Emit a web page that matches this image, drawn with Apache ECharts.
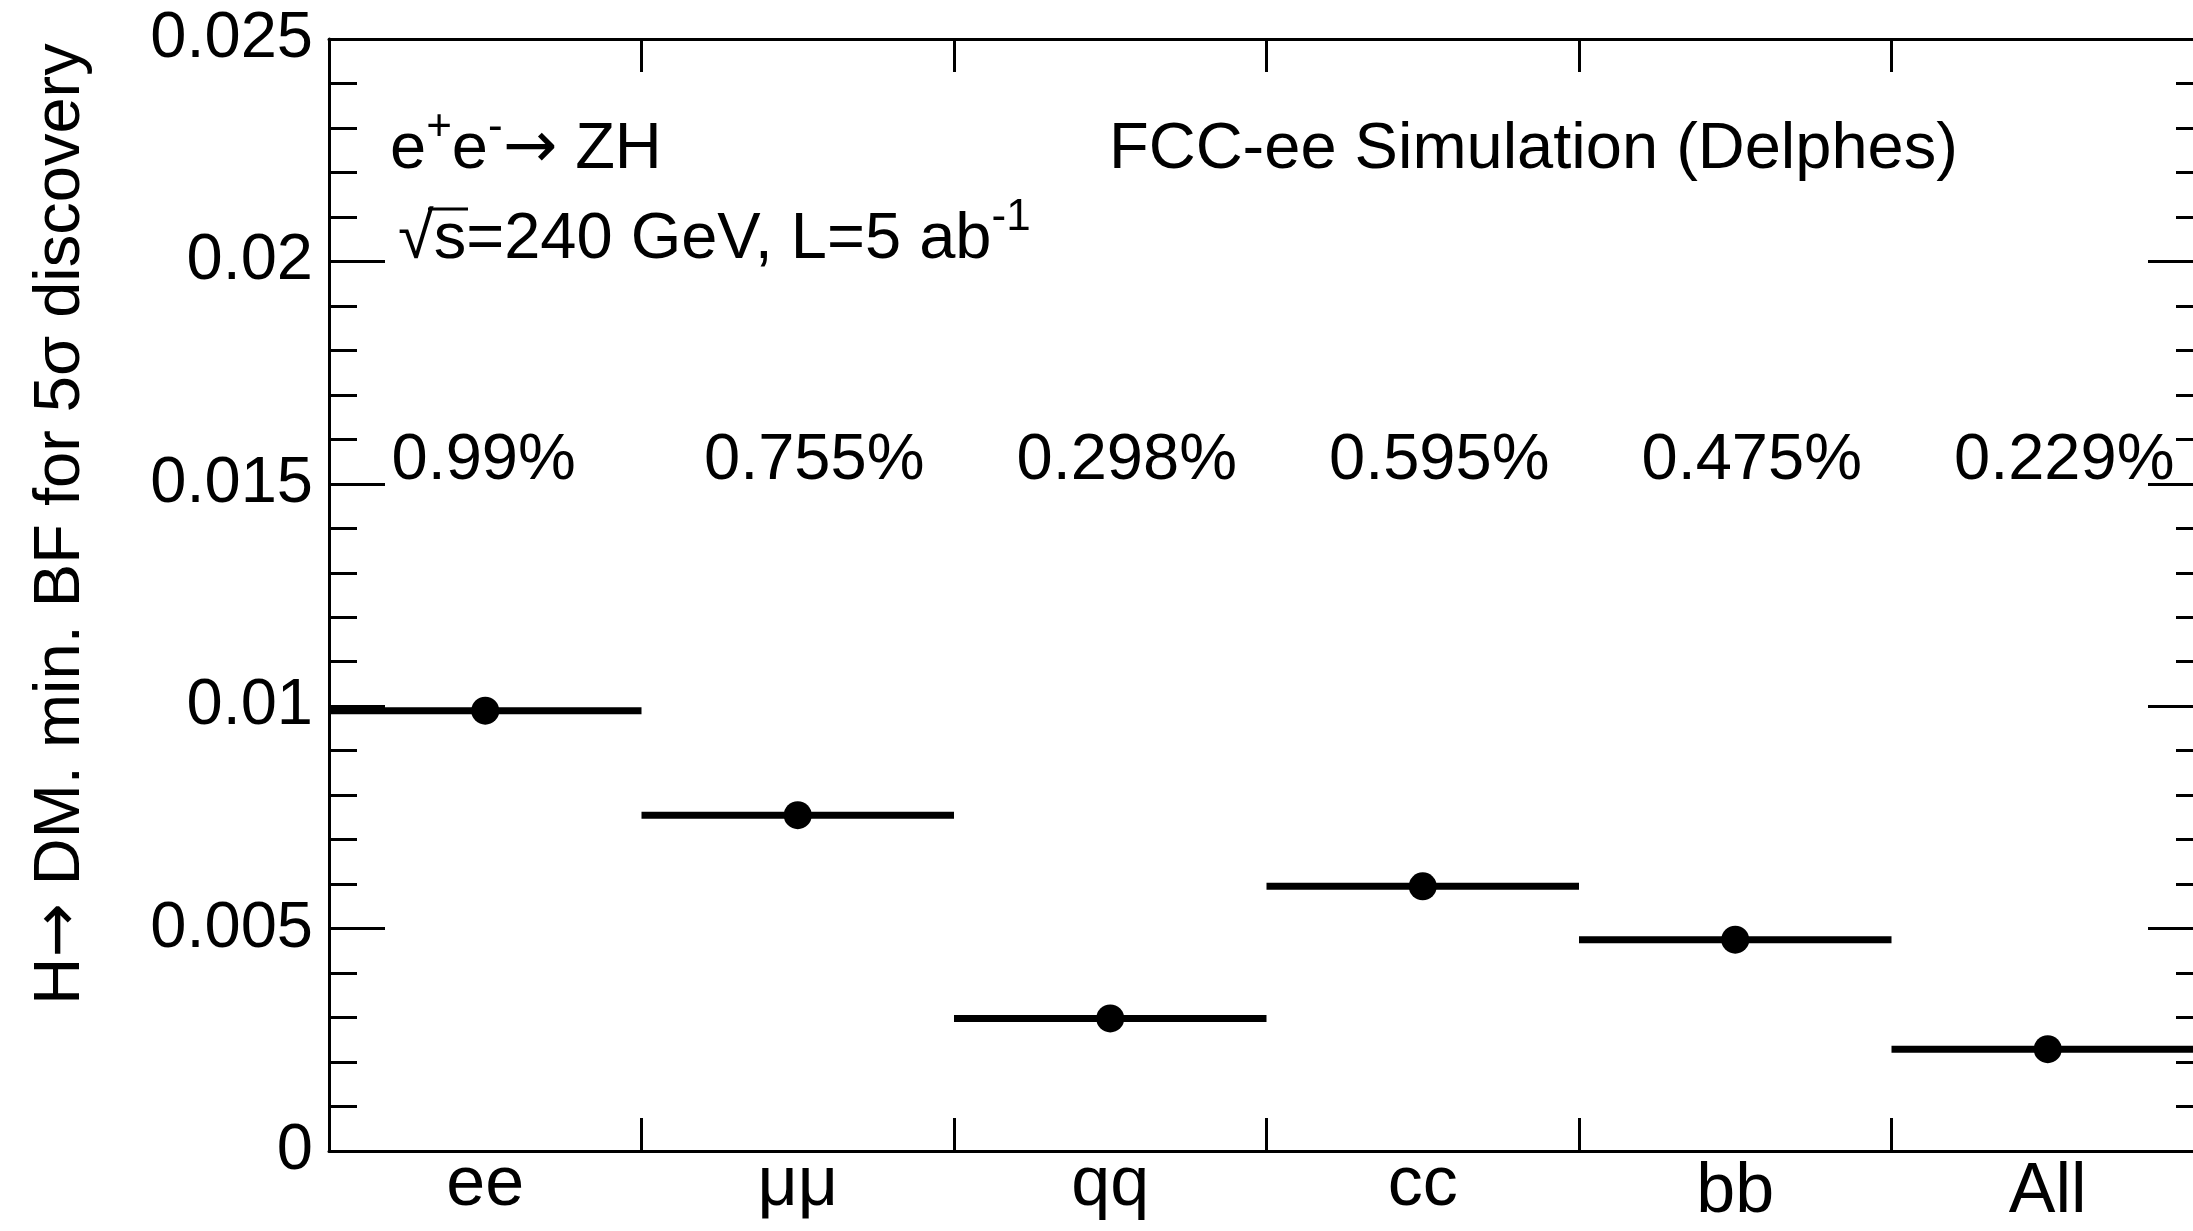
<!DOCTYPE html>
<html><head><meta charset="utf-8">
<script src="https://cdn.jsdelivr.net/npm/echarts@6/dist/echarts.min.js"></script>
<style>html,body{margin:0;padding:0;background:#fff;overflow:hidden}#c{width:2212px;height:1231px}</style>
</head><body><div id="c"></div>
<script>
// ---- data ----
const categories = ['ee', 'μμ', 'qq', 'cc', 'bb', 'All'];
const minBF = [0.0099, 0.00755, 0.00298, 0.00595, 0.00475, 0.00229];
const pctLabels = ['0.99%', '0.755%', '0.298%', '0.595%', '0.475%', '0.229%'];
const yTickLabels = ['0', '0.005', '0.01', '0.015', '0.02', '0.025'];
const yTickValues = [0, 0.005, 0.01, 0.015, 0.02, 0.025];

// ---- style ----
const FONT = '"Liberation Sans", Arial, Helvetica, sans-serif';
const ARROW_FONT = '"DejaVu Sans", sans-serif';
const FS = 65;
const LABEL_Y = 0.015;      // data-space baseline of the percentage labels
const BLACK = '#000';

const chart = echarts.init(document.getElementById('c'), null, {renderer: 'canvas'});

const yCommon = {
  type: 'value', min: 0, max: 0.025, interval: 0.005,
  axisLine: {show: true, lineStyle: {color: BLACK, width: 3}},
  axisTick: {show: true, inside: true, length: 56, lineStyle: {color: BLACK, width: 3}},
  minorTick: {show: true, splitNumber: 5, length: 28, lineStyle: {color: BLACK, width: 3}},
  splitLine: {show: false}, minorSplitLine: {show: false}
};
const xCommon = {
  type: 'category', data: categories, boundaryGap: true,
  axisLine: {show: true, onZero: false, lineStyle: {color: BLACK, width: 3}},
  axisTick: {show: true, inside: true, length: 33, alignWithLabel: false, lineStyle: {color: BLACK, width: 3}},
  splitLine: {show: false}
};
const richMain = {fontFamily: FONT, fontSize: FS, lineHeight: 88, color: BLACK};
const richArrow = {fontFamily: ARROW_FONT, fontSize: FS, lineHeight: 88, color: BLACK};
const richSup = {fontFamily: FONT, fontSize: 44, lineHeight: 44, verticalAlign: 'top', color: BLACK};

const option = {
  animation: false,
  backgroundColor: '#fff',
  grid: {left: 329, top: 39, width: 1875, height: 1112, containLabel: false},
  xAxis: [
    Object.assign({}, xCommon, {
      position: 'bottom',
      axisLabel: {
        show: true, interval: 0, margin: 0, color: BLACK,
        formatter: v => (/[A-Zbdfhklt]/.test(v) ? '{a|' + v + '}' : '{n|' + v + '}'),
        rich: {
          n: {fontFamily: FONT, fontSize: 70, lineHeight: 70, color: BLACK},
          a: {fontFamily: FONT, fontSize: 70, lineHeight: 70, color: BLACK, padding: [13, 0, 0, 0]}
        }
      }
    }),
    Object.assign({}, xCommon, {position: 'top', axisLabel: {show: false}})
  ],
  yAxis: [
    Object.assign({}, yCommon, {
      position: 'left',
      axisLabel: {
        show: true, margin: 16, color: BLACK, fontFamily: FONT, fontSize: FS,
        formatter: v => {
          const k = yTickValues.findIndex(t => Math.abs(t - v) < 1e-9);
          return k >= 0 ? yTickLabels[k] : '';
        }
      }
    }),
    Object.assign({}, yCommon, {position: 'right', axisLabel: {show: false}})
  ],
  series: [
    {
      type: 'custom', name: 'bins', xAxisIndex: 0, yAxisIndex: 0, clip: false,
      data: minBF.map((v, i) => [i, v]),
      renderItem: function (params, api) {
        const c = api.coord([api.value(0), api.value(1)]);
        const w = api.size([1, 0])[0];
        return {
          type: 'line',
          shape: {x1: c[0] - w / 2, y1: c[1], x2: c[0] + w / 2, y2: c[1]},
          style: {stroke: BLACK, lineWidth: 7}
        };
      }
    },
    {
      type: 'scatter', name: 'points', xAxisIndex: 0, yAxisIndex: 0,
      symbol: 'circle', symbolSize: 28,
      itemStyle: {color: BLACK, opacity: 1},
      emphasis: {disabled: true},
      data: minBF.map((v, i) => [i, v])
    },
    {
      type: 'custom', name: 'labels', xAxisIndex: 0, yAxisIndex: 0, clip: false,
      data: pctLabels.map((t, i) => [i, LABEL_Y]),
      renderItem: function (params, api) {
        const c = api.coord([api.value(0), api.value(1)]);
        const w = api.size([1, 0])[0];
        return {
          type: 'text',
          x: c[0] - w / 2 + 0.2 * w,
          y: c[1] - 0.35 * FS,
          style: {
            text: pctLabels[params.dataIndex],
            fill: BLACK, font: FS + 'px ' + FONT,
            align: 'left', verticalAlign: 'middle'
          }
        };
      }
    }
  ],
  graphic: [
    {
      type: 'text', x: 61, y: 524, rotation: Math.PI / 2,
      style: {
        text: '{m|H}{r|→}{m| DM. min. BF for 5σ discovery}',
        fill: BLACK, align: 'center', verticalAlign: 'middle',
        rich: {m: richMain, r: richArrow}
      }
    },
    {
      type: 'text', x: 390, y: 173 - 0.35 * FS,
      style: {
        text: '{m|e}{s|+}{m|e}{s|-}{r|→}{m| ZH}',
        align: 'left', verticalAlign: 'middle', fill: BLACK,
        rich: {m: richMain, s: richSup, r: richArrow}
      }
    },
    {
      type: 'text', x: 398, y: 263 - 0.35 * FS,
      style: {
        text: '{m|√s=240 GeV, L=5 ab}{s|-1}',
        align: 'left', verticalAlign: 'middle', fill: BLACK,
        rich: {m: richMain, s: richSup}
      }
    },
    {
      type: 'line',
      shape: {x1: 428, y1: 209, x2: 468, y2: 209},
      style: {stroke: BLACK, lineWidth: 3}
    },
    {
      type: 'text', x: 1109, y: 173 - 0.35 * FS,
      style: {
        text: 'FCC-ee Simulation (Delphes)',
        fill: BLACK, font: FS + 'px ' + FONT, align: 'left', verticalAlign: 'middle'
      }
    }
  ]
};
chart.setOption(option);
</script>
</body></html>
